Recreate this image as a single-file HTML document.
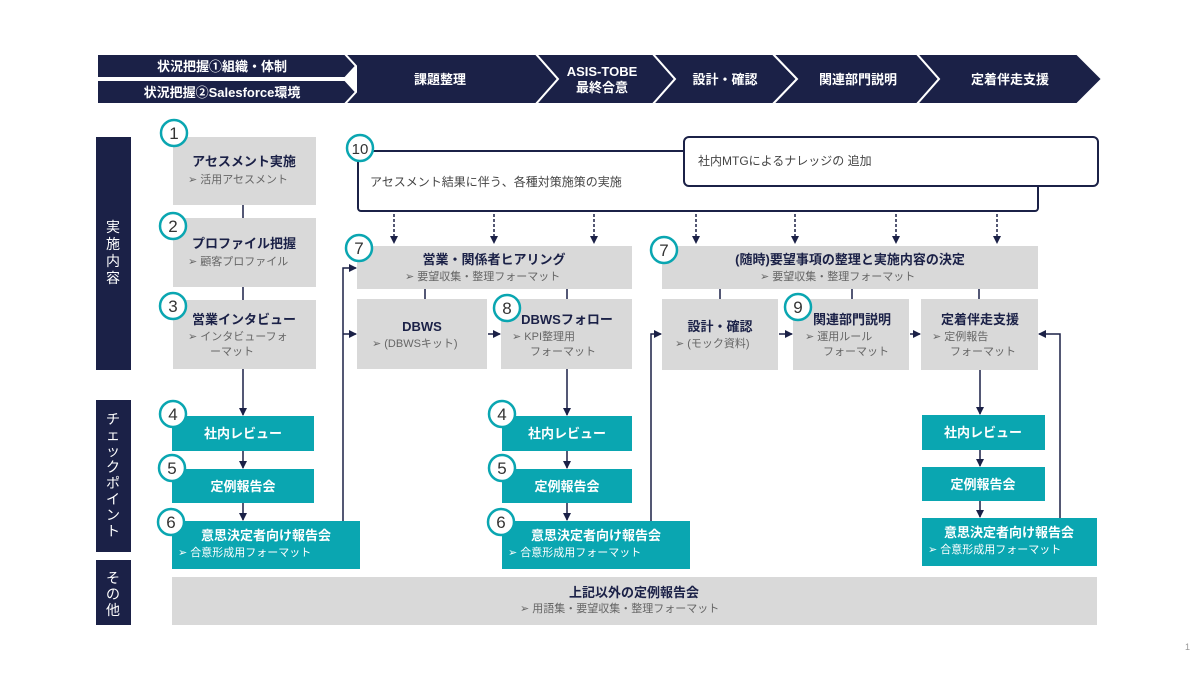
<!DOCTYPE html>
<html><head><meta charset="utf-8"><style>
body{margin:0;background:#fff;}
svg{display:block;font-family:"Liberation Sans","Noto Sans CJK JP",sans-serif;}
.t{font-weight:bold;fill:#1b2147;font-size:13px;text-anchor:middle}
.w{font-weight:bold;fill:#fff;font-size:13px;text-anchor:middle}
.s{fill:#666;font-size:11px}
.ws{fill:#fff;font-size:11px}
.h{font-weight:bold;fill:#fff;font-size:13px;text-anchor:middle}
.n{fill:#333;font-size:17px;text-anchor:middle}
.v{fill:#fff;font-size:14px;text-anchor:middle}
</style></head><body>
<svg width="1200" height="676" viewBox="0 0 1200 676">
<defs>
<marker id="a" markerWidth="8" markerHeight="8" refX="7" refY="4" orient="auto" markerUnits="userSpaceOnUse"><path d="M0,0 L8,4 L0,8 z" fill="#1b2147"/></marker>
</defs>
<g fill="#1b2147" stroke="#fff" stroke-width="2">
<polygon points="97,54 345,54 356,66 345,78 97,78"/>
<polygon points="97,80 345,80 356,92 345,104 97,104"/>
<polygon points="345,54 536,54 558,79 536,104 345,104 356,92 356,66"/>
<polygon points="536,54 653,54 675,79 653,104 536,104 558,79"/>
<polygon points="653,54 773,54 797,79 773,104 653,104 675,79"/>
<polygon points="773,54 917,54 939,79 917,104 773,104 797,79"/>
<polygon points="917,54 1077,54 1102,79 1077,104 917,104 939,79"/>
</g>
<text class="h" x="222" y="71">状況把握①組織・体制</text>
<text class="h" x="222" y="97">状況把握②Salesforce環境</text>
<text class="h" x="440" y="84">課題整理</text>
<text class="h" x="602" y="76">ASIS-TOBE</text>
<text class="h" x="602" y="92">最終合意</text>
<text class="h" x="725" y="84">設計・確認</text>
<text class="h" x="858" y="84">関連部門説明</text>
<text class="h" x="1010" y="84">定着伴走支援</text>

<rect x="96" y="137" width="35" height="233" fill="#1b2147"/>
<rect x="96" y="400" width="35" height="152" fill="#1b2147"/>
<rect x="96" y="560" width="35" height="65" fill="#1b2147"/>
<g class="v"><text x="113" y="232">実</text><text x="113" y="249">施</text><text x="113" y="266">内</text><text x="113" y="283">容</text>
<text x="113" y="424">チ</text><text x="113" y="440">ェ</text><text x="113" y="456">ッ</text><text x="113" y="472">ク</text><text x="113" y="488">ポ</text><text x="113" y="504">イ</text><text x="113" y="520">ン</text><text x="113" y="536">ト</text>
<text x="113" y="583">そ</text><text x="113" y="599">の</text><text x="113" y="615">他</text></g>

<g stroke="#1b2147" stroke-width="1.5" fill="none">
<line x1="243" y1="205" x2="243" y2="218"/><line x1="243" y1="287" x2="243" y2="300"/>
<line x1="243" y1="369" x2="243" y2="415" marker-end="url(#a)"/>
<line x1="243" y1="451" x2="243" y2="468" marker-end="url(#a)"/>
<line x1="243" y1="503" x2="243" y2="520" marker-end="url(#a)"/>
<line x1="567" y1="369" x2="567" y2="415" marker-end="url(#a)"/>
<line x1="567" y1="451" x2="567" y2="468" marker-end="url(#a)"/>
<line x1="567" y1="503" x2="567" y2="520" marker-end="url(#a)"/>
<line x1="980" y1="370" x2="980" y2="414" marker-end="url(#a)"/>
<line x1="980" y1="450" x2="980" y2="466" marker-end="url(#a)"/>
<line x1="980" y1="501" x2="980" y2="517" marker-end="url(#a)"/>
<line x1="425" y1="289" x2="425" y2="299"/><line x1="567" y1="289" x2="567" y2="299"/>
<line x1="720" y1="289" x2="720" y2="299"/><line x1="852" y1="289" x2="852" y2="299"/><line x1="979" y1="289" x2="979" y2="299"/>
<polyline points="343,521 343,268 356,268" marker-end="url(#a)"/>
<line x1="343" y1="334" x2="356" y2="334" marker-end="url(#a)"/>
<line x1="488" y1="334" x2="500" y2="334" marker-end="url(#a)"/>
<polyline points="651,521 651,334 661,334" marker-end="url(#a)"/>
<line x1="779" y1="334" x2="792" y2="334" marker-end="url(#a)"/>
<line x1="910" y1="334" x2="920" y2="334" marker-end="url(#a)"/>
<polyline points="1060,518 1060,334 1039,334" marker-end="url(#a)"/>
<g stroke-dasharray="3,2">
<line x1="394" y1="214" x2="394" y2="243" marker-end="url(#a)"/><line x1="494" y1="214" x2="494" y2="243" marker-end="url(#a)"/><line x1="594" y1="214" x2="594" y2="243" marker-end="url(#a)"/>
<line x1="696" y1="214" x2="696" y2="243" marker-end="url(#a)"/><line x1="795" y1="214" x2="795" y2="243" marker-end="url(#a)"/><line x1="896" y1="214" x2="896" y2="243" marker-end="url(#a)"/><line x1="997" y1="214" x2="997" y2="243" marker-end="url(#a)"/>
</g>
<rect x="358" y="151" width="680" height="60" rx="3" stroke-width="2"/>
</g>
<rect x="684" y="137" width="414" height="49" rx="5" fill="#fff" stroke="#1b2147" stroke-width="2"/>
<text x="370" y="186" fill="#444" font-size="12">アセスメント結果に伴う、各種対策施策の実施</text>
<text x="698" y="165" fill="#444" font-size="12">社内MTGによるナレッジの 追加</text>

<g fill="#d9d9d9">
<rect x="173" y="137" width="143" height="68"/><rect x="173" y="218" width="143" height="69"/><rect x="173" y="300" width="143" height="69"/>
<rect x="357" y="246" width="275" height="43"/><rect x="357" y="299" width="130" height="70"/><rect x="501" y="299" width="131" height="70"/>
<rect x="662" y="246" width="376" height="43"/><rect x="662" y="299" width="116" height="71"/><rect x="793" y="299" width="116" height="71"/><rect x="921" y="299" width="117" height="71"/>
<rect x="172" y="577" width="925" height="48"/>
</g>
<g fill="#0aa6b1">
<rect x="172" y="416" width="142" height="35"/><rect x="172" y="469" width="142" height="34"/><rect x="172" y="521" width="188" height="48"/>
<rect x="502" y="416" width="130" height="35"/><rect x="502" y="469" width="130" height="34"/><rect x="502" y="521" width="188" height="48"/>
<rect x="922" y="415" width="123" height="35"/><rect x="922" y="467" width="123" height="34"/><rect x="922" y="518" width="175" height="48"/>
</g>

<text class="t" x="244" y="166">アセスメント実施</text><text class="s" x="188" y="183">➢ 活用アセスメント</text>
<text class="t" x="244" y="248">プロファイル把握</text><text class="s" x="188" y="265">➢ 顧客プロファイル</text>
<text class="t" x="244" y="324">営業インタビュー</text><text class="s" x="188" y="340">➢ インタビューフォ</text><text class="s" x="210" y="355">ーマット</text>
<text class="t" x="494" y="264">営業・関係者ヒアリング</text><text class="s" x="405" y="280">➢ 要望収集・整理フォーマット</text>
<text class="t" x="422" y="331">DBWS</text><text class="s" x="372" y="347">➢ (DBWSキット)</text>
<text class="t" x="567" y="324">DBWSフォロー</text><text class="s" x="512" y="340">➢ KPI整理用</text><text class="s" x="530" y="355">フォーマット</text>
<text class="t" x="850" y="264">(随時)要望事項の整理と実施内容の決定</text><text class="s" x="760" y="280">➢ 要望収集・整理フォーマット</text>
<text class="t" x="720" y="331">設計・確認</text><text class="s" x="675" y="347">➢ (モック資料)</text>
<text class="t" x="852" y="324">関連部門説明</text><text class="s" x="805" y="340">➢ 運用ルール</text><text class="s" x="823" y="355">フォーマット</text>
<text class="t" x="980" y="324">定着伴走支援</text><text class="s" x="932" y="340">➢ 定例報告</text><text class="s" x="950" y="355">フォーマット</text>
<text class="t" x="634" y="597">上記以外の定例報告会</text><text class="s" x="520" y="612">➢ 用語集・要望収集・整理フォーマット</text>

<text class="w" x="243" y="438">社内レビュー</text><text class="w" x="243" y="491">定例報告会</text>
<text class="w" x="266" y="540">意思決定者向け報告会</text><text class="ws" x="178" y="556">➢ 合意形成用フォーマット</text>
<text class="w" x="567" y="438">社内レビュー</text><text class="w" x="567" y="491">定例報告会</text>
<text class="w" x="596" y="540">意思決定者向け報告会</text><text class="ws" x="508" y="556">➢ 合意形成用フォーマット</text>
<text class="w" x="983" y="437">社内レビュー</text><text class="w" x="983" y="489">定例報告会</text>
<text class="w" x="1009" y="537">意思決定者向け報告会</text><text class="ws" x="928" y="553">➢ 合意形成用フォーマット</text>

<g fill="#fff" stroke="#0aa6b1" stroke-width="2.5">
<circle cx="174" cy="133" r="13"/><circle cx="173" cy="226" r="13"/><circle cx="173" cy="306" r="13"/>
<circle cx="360" cy="148" r="13"/><circle cx="359" cy="248" r="13"/><circle cx="507" cy="308" r="13"/>
<circle cx="664" cy="250" r="13"/><circle cx="798" cy="307" r="13"/>
<circle cx="173" cy="414" r="13"/><circle cx="172" cy="468" r="13"/><circle cx="171" cy="522" r="13"/>
<circle cx="502" cy="414" r="13"/><circle cx="502" cy="468" r="13"/><circle cx="501" cy="522" r="13"/>
</g>
<g class="n">
<text x="174" y="139">1</text><text x="173" y="232">2</text><text x="173" y="312">3</text>
<text x="360" y="154" font-size="15">10</text><text x="359" y="254">7</text><text x="507" y="314">8</text>
<text x="664" y="256">7</text><text x="798" y="313">9</text>
<text x="173" y="420">4</text><text x="172" y="474">5</text><text x="171" y="528">6</text>
<text x="502" y="420">4</text><text x="502" y="474">5</text><text x="501" y="528">6</text>
</g>
<text x="1185" y="650" fill="#999" font-size="9">1</text>
</svg>
</body></html>
